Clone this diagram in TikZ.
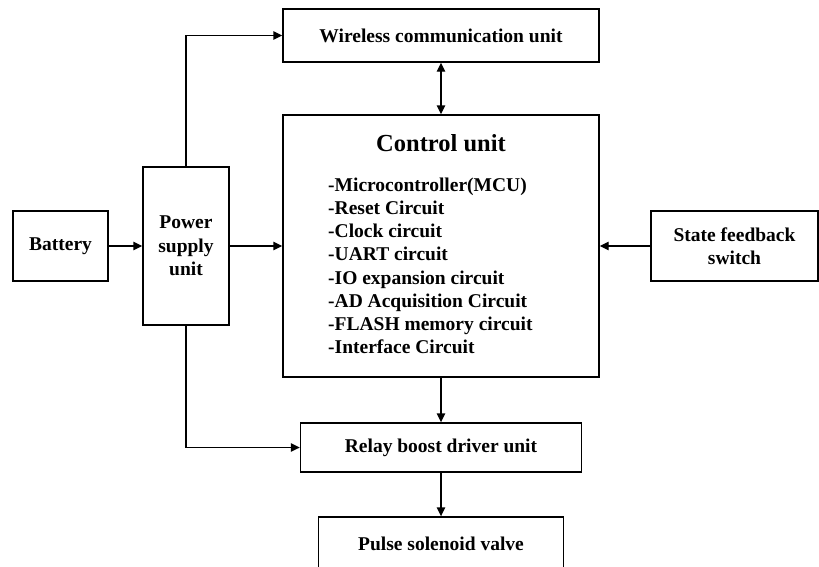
\documentclass[tikz,border=0pt]{standalone}
\usepackage{fontspec}
\setmainfont{Liberation Serif}
\usetikzlibrary{arrows.meta}
\begin{document}
\begin{tikzpicture}[x=1pt,y=-1pt,
	unitbox/.style={draw,line width=1.4pt,inner sep=0pt,align=center,
		font=\bfseries\fontsize{19.5}{23.5}\selectfont},
	txt/.style={inner sep=0pt,font=\bfseries\fontsize{19.5}{23.5}\selectfont},
	link/.style={line width=1.4pt,-{Triangle[length=9pt,width=8.5pt]}}]
		\clip (0,0) rectangle (819,566);
		\fill [white] (0,0) rectangle (819,566);
		% blocks
		\node [unitbox,minimum width=95pt,minimum height=70pt] (batt) at (60.5,246) {Battery};
		\node [unitbox,minimum width=86pt,minimum height=158pt] (psu) at (186,246) {Power\\supply\\unit};
		\node [unitbox,minimum width=316pt,minimum height=53pt] (wcu) at (441,35.5) {Wireless communication unit};
		\node [unitbox,minimum width=316pt,minimum height=262pt] (ctrl) at (441,246) {};
		\node [unitbox,minimum width=167pt,minimum height=70pt] (sfs) at (734.5,246) {State feedback\\switch};
		\node [unitbox,minimum width=281pt,minimum height=49pt] (relay) at (441,447.5) {Relay boost driver unit};
		\node [unitbox,minimum width=245pt,minimum height=54pt] (pulse) at (441,544) {Pulse solenoid valve};
		% contents of the control unit
		\node [txt,font=\bfseries\fontsize{24.5}{28}\selectfont] (ctrltitle) at (441,143) {Control unit};
		\foreach \item [count=\i from 0] in {-Microcontroller(MCU),-Reset Circuit,-Clock circuit,
			-UART circuit,-IO expansion circuit,-AD Acquisition Circuit,-FLASH memory circuit,-Interface Circuit}
			\node [txt,anchor=base west] (item\i) at (328,191.5+23.15*\i) {\item};
		% connections
		\draw [link] (batt) -- (psu);
		\draw [link] (psu) -- (ctrl);
		\draw [link] (sfs) -- (ctrl);
		\draw [link] (psu.north) |- (wcu.west);
		\draw [link] (psu.south) |- (relay.west);
		\draw [link,{Triangle[length=9pt,width=8.5pt]}-{Triangle[length=9pt,width=8.5pt]}] (wcu) -- (ctrl);
		\draw [link] (ctrl) -- (relay);
		\draw [link] (relay) -- (pulse);
	\end{tikzpicture}
\end{document}
